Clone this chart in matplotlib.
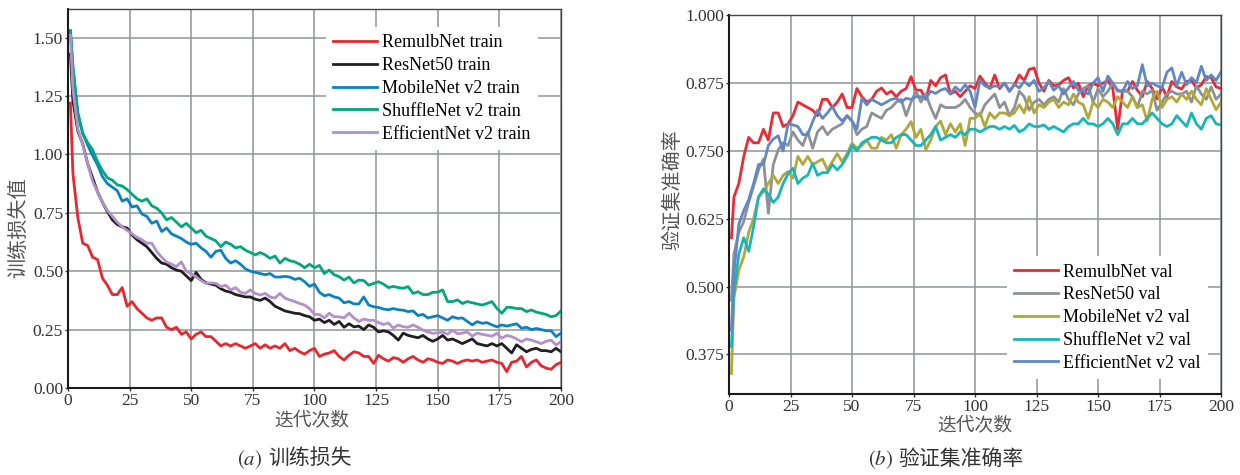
import matplotlib
matplotlib.use('Agg')
import matplotlib.pyplot as plt
from matplotlib.ticker import FormatStrFormatter

plt.rcParams['font.family'] = ['Liberation Serif', 'Noto Sans CJK SC']
plt.rcParams['mathtext.fontset'] = 'stix'

# epochs sampled: first epoch, then every second epoch
epochs = [1] + list(range(2, 201, 2))

# ---- training loss ----
remulb_train = [1.22,
    0.92, 0.73, 0.62, 0.61, 0.56, 0.55, 0.47, 0.44, 0.40, 0.40,
    0.43, 0.35, 0.37, 0.34, 0.32, 0.30, 0.29, 0.30, 0.30, 0.26,
    0.25, 0.26, 0.23, 0.24, 0.21, 0.23, 0.24, 0.22, 0.22, 0.20,
    0.18, 0.19, 0.18, 0.19, 0.18, 0.17, 0.18, 0.19, 0.17, 0.185,
    0.17, 0.18, 0.17, 0.19, 0.16, 0.17, 0.155, 0.145, 0.16, 0.17,
    0.135, 0.145, 0.15, 0.16, 0.135, 0.12, 0.14, 0.155, 0.15, 0.135,
    0.135, 0.105, 0.14, 0.125, 0.115, 0.13, 0.125, 0.11, 0.125, 0.135,
    0.12, 0.11, 0.125, 0.12, 0.11, 0.105, 0.12, 0.115, 0.105, 0.115,
    0.12, 0.115, 0.12, 0.11, 0.115, 0.12, 0.11, 0.105, 0.07, 0.11,
    0.115, 0.135, 0.09, 0.11, 0.12, 0.095, 0.085, 0.08, 0.10, 0.11]
resnet_train = [1.43,
    1.23, 1.10, 1.045, 0.96, 0.90, 0.84, 0.795, 0.755, 0.72, 0.70,
    0.69, 0.685, 0.655, 0.635, 0.62, 0.605, 0.58, 0.555, 0.535, 0.53,
    0.515, 0.505, 0.50, 0.48, 0.46, 0.495, 0.465, 0.45, 0.445, 0.44,
    0.425, 0.415, 0.41, 0.40, 0.395, 0.39, 0.39, 0.38, 0.375, 0.385,
    0.37, 0.35, 0.34, 0.33, 0.325, 0.32, 0.318, 0.31, 0.305, 0.29,
    0.295, 0.28, 0.29, 0.272, 0.285, 0.26, 0.275, 0.262, 0.265, 0.25,
    0.27, 0.26, 0.24, 0.245, 0.24, 0.225, 0.205, 0.235, 0.225, 0.22,
    0.215, 0.225, 0.21, 0.20, 0.21, 0.225, 0.205, 0.21, 0.20, 0.19,
    0.20, 0.21, 0.19, 0.185, 0.18, 0.19, 0.18, 0.19, 0.17, 0.15,
    0.185, 0.17, 0.155, 0.165, 0.17, 0.16, 0.16, 0.155, 0.17, 0.155]
mobilenet_train = [1.53,
    1.37, 1.18, 1.09, 1.04, 0.995, 0.955, 0.905, 0.875, 0.86, 0.845,
    0.80, 0.81, 0.775, 0.78, 0.745, 0.735, 0.705, 0.715, 0.67, 0.685,
    0.66, 0.65, 0.64, 0.625, 0.615, 0.62, 0.60, 0.585, 0.56, 0.585,
    0.59, 0.555, 0.535, 0.545, 0.53, 0.51, 0.50, 0.495, 0.49, 0.485,
    0.49, 0.475, 0.475, 0.478, 0.475, 0.465, 0.47, 0.455, 0.435, 0.445,
    0.41, 0.395, 0.40, 0.39, 0.385, 0.365, 0.37, 0.36, 0.36, 0.39,
    0.355, 0.348, 0.345, 0.338, 0.335, 0.34, 0.335, 0.333, 0.327, 0.33,
    0.31, 0.315, 0.30, 0.305, 0.31, 0.30, 0.29, 0.305, 0.298, 0.30,
    0.285, 0.27, 0.284, 0.277, 0.28, 0.27, 0.262, 0.27, 0.265, 0.27,
    0.275, 0.256, 0.26, 0.25, 0.255, 0.25, 0.245, 0.245, 0.22, 0.235]
shufflenet_train = [1.53,
    1.38, 1.17, 1.09, 1.05, 1.02, 0.97, 0.93, 0.90, 0.89, 0.87,
    0.865, 0.85, 0.83, 0.81, 0.80, 0.81, 0.78, 0.77, 0.75, 0.72,
    0.73, 0.71, 0.69, 0.705, 0.685, 0.665, 0.675, 0.65, 0.64, 0.63,
    0.605, 0.625, 0.615, 0.60, 0.605, 0.59, 0.58, 0.57, 0.58, 0.57,
    0.555, 0.565, 0.535, 0.555, 0.545, 0.54, 0.53, 0.515, 0.53, 0.515,
    0.525, 0.49, 0.505, 0.485, 0.477, 0.462, 0.475, 0.45, 0.462, 0.46,
    0.44, 0.448, 0.455, 0.445, 0.43, 0.435, 0.43, 0.427, 0.434, 0.405,
    0.412, 0.40, 0.40, 0.41, 0.41, 0.42, 0.37, 0.37, 0.377, 0.362,
    0.37, 0.365, 0.36, 0.355, 0.362, 0.37, 0.341, 0.32, 0.345, 0.345,
    0.34, 0.34, 0.327, 0.334, 0.325, 0.32, 0.315, 0.305, 0.31, 0.33]
efficientnet_train = [1.51,
    1.28, 1.11, 1.04, 0.96, 0.885, 0.84, 0.795, 0.76, 0.735, 0.71,
    0.69, 0.675, 0.66, 0.645, 0.635, 0.62, 0.62, 0.585, 0.56, 0.54,
    0.53, 0.52, 0.54, 0.50, 0.49, 0.475, 0.46, 0.448, 0.45, 0.448,
    0.434, 0.44, 0.42, 0.43, 0.41, 0.405, 0.42, 0.405, 0.398, 0.405,
    0.39, 0.385, 0.405, 0.385, 0.377, 0.37, 0.362, 0.355, 0.34, 0.315,
    0.315, 0.30, 0.32, 0.305, 0.305, 0.30, 0.32, 0.30, 0.285, 0.295,
    0.29, 0.29, 0.28, 0.272, 0.278, 0.256, 0.27, 0.262, 0.26, 0.27,
    0.26, 0.248, 0.24, 0.234, 0.236, 0.24, 0.23, 0.248, 0.232, 0.235,
    0.24, 0.222, 0.235, 0.23, 0.226, 0.222, 0.234, 0.213, 0.225, 0.22,
    0.21, 0.198, 0.21, 0.205, 0.198, 0.19, 0.20, 0.205, 0.184, 0.198]

# ---- validation accuracy ----
remulb_val = [0.59,
    0.665, 0.69, 0.74, 0.775, 0.765, 0.765, 0.79, 0.77, 0.82, 0.82,
    0.795, 0.80, 0.815, 0.84, 0.835, 0.83, 0.825, 0.815, 0.845, 0.845,
    0.83, 0.84, 0.855, 0.83, 0.83, 0.865, 0.85, 0.84, 0.845, 0.86,
    0.866, 0.855, 0.86, 0.85, 0.86, 0.865, 0.887, 0.862, 0.862, 0.845,
    0.88, 0.87, 0.885, 0.89, 0.855, 0.86, 0.85, 0.86, 0.87, 0.865,
    0.888, 0.875, 0.865, 0.89, 0.865, 0.875, 0.86, 0.872, 0.89, 0.88,
    0.90, 0.903, 0.875, 0.86, 0.88, 0.87, 0.872, 0.88, 0.885, 0.866,
    0.875, 0.85, 0.87, 0.875, 0.87, 0.875, 0.88, 0.865, 0.79, 0.862,
    0.86, 0.878, 0.862, 0.85, 0.878, 0.865, 0.846, 0.868, 0.85, 0.878,
    0.868, 0.864, 0.878, 0.88, 0.866, 0.872, 0.887, 0.885, 0.868, 0.865]
resnet_val = [0.475,
    0.56, 0.60, 0.62, 0.655, 0.685, 0.715, 0.735, 0.635, 0.725, 0.752,
    0.765, 0.76, 0.785, 0.77, 0.76, 0.785, 0.755, 0.785, 0.795, 0.78,
    0.79, 0.795, 0.80, 0.815, 0.805, 0.78, 0.79, 0.795, 0.82, 0.815,
    0.81, 0.825, 0.83, 0.84, 0.845, 0.815, 0.84, 0.86, 0.84, 0.855,
    0.83, 0.81, 0.835, 0.83, 0.83, 0.83, 0.835, 0.845, 0.83, 0.82,
    0.815, 0.835, 0.845, 0.855, 0.83, 0.84, 0.815, 0.83, 0.86, 0.85,
    0.825, 0.84, 0.845, 0.835, 0.845, 0.85, 0.84, 0.865, 0.845, 0.835,
    0.855, 0.865, 0.87, 0.84, 0.865, 0.85, 0.86, 0.875, 0.86, 0.86,
    0.86, 0.85, 0.83, 0.86, 0.855, 0.862, 0.825, 0.84, 0.855, 0.86,
    0.855, 0.855, 0.86, 0.84, 0.87, 0.855, 0.845, 0.868, 0.845, 0.855]
mobilenet_val = [0.34,
    0.48, 0.53, 0.555, 0.60, 0.625, 0.665, 0.675, 0.69, 0.705, 0.69,
    0.705, 0.712, 0.70, 0.74, 0.725, 0.74, 0.725, 0.73, 0.735, 0.715,
    0.73, 0.745, 0.73, 0.745, 0.764, 0.755, 0.76, 0.77, 0.755, 0.755,
    0.775, 0.77, 0.78, 0.755, 0.78, 0.79, 0.804, 0.775, 0.79, 0.752,
    0.77, 0.795, 0.805, 0.78, 0.80, 0.785, 0.80, 0.76, 0.81, 0.81,
    0.82, 0.795, 0.82, 0.81, 0.82, 0.82, 0.815, 0.82, 0.835, 0.82,
    0.85, 0.82, 0.835, 0.83, 0.84, 0.845, 0.83, 0.84, 0.835, 0.855,
    0.84, 0.835, 0.81, 0.84, 0.83, 0.845, 0.84, 0.83, 0.85, 0.84,
    0.83, 0.85, 0.83, 0.835, 0.805, 0.845, 0.86, 0.83, 0.845, 0.85,
    0.84, 0.855, 0.845, 0.86, 0.845, 0.835, 0.865, 0.845, 0.826, 0.84]
shufflenet_val = [0.39,
    0.49, 0.56, 0.59, 0.565, 0.61, 0.665, 0.68, 0.67, 0.655, 0.665,
    0.69, 0.708, 0.718, 0.69, 0.70, 0.705, 0.727, 0.705, 0.71, 0.71,
    0.725, 0.715, 0.725, 0.74, 0.76, 0.75, 0.765, 0.77, 0.775, 0.775,
    0.77, 0.765, 0.765, 0.775, 0.78, 0.78, 0.77, 0.76, 0.76, 0.77,
    0.78, 0.795, 0.77, 0.775, 0.78, 0.775, 0.785, 0.78, 0.79, 0.79,
    0.785, 0.79, 0.795, 0.795, 0.79, 0.795, 0.79, 0.797, 0.785, 0.79,
    0.80, 0.795, 0.795, 0.798, 0.79, 0.795, 0.79, 0.785, 0.795, 0.80,
    0.80, 0.81, 0.80, 0.80, 0.795, 0.80, 0.81, 0.80, 0.78, 0.80,
    0.80, 0.81, 0.80, 0.80, 0.81, 0.82, 0.81, 0.80, 0.795, 0.80,
    0.815, 0.805, 0.795, 0.82, 0.80, 0.79, 0.81, 0.815, 0.80, 0.798]
efficientnet_val = [0.42,
    0.525, 0.615, 0.64, 0.66, 0.69, 0.725, 0.725, 0.76, 0.772, 0.778,
    0.75, 0.80, 0.798, 0.795, 0.78, 0.78, 0.804, 0.825, 0.81, 0.82,
    0.832, 0.815, 0.805, 0.815, 0.805, 0.79, 0.847, 0.835, 0.845, 0.84,
    0.835, 0.84, 0.845, 0.847, 0.84, 0.847, 0.845, 0.85, 0.85, 0.847,
    0.86, 0.856, 0.862, 0.865, 0.855, 0.868, 0.86, 0.872, 0.86, 0.83,
    0.88, 0.87, 0.866, 0.87, 0.868, 0.875, 0.86, 0.873, 0.866, 0.878,
    0.87, 0.88, 0.86, 0.866, 0.878, 0.862, 0.87, 0.855, 0.866, 0.878,
    0.862, 0.86, 0.855, 0.875, 0.885, 0.86, 0.888, 0.875, 0.862, 0.86,
    0.878, 0.865, 0.87, 0.909, 0.87, 0.875, 0.87, 0.866, 0.895, 0.903,
    0.87, 0.895, 0.872, 0.885, 0.876, 0.906, 0.88, 0.89, 0.88, 0.896]

model_names = ['RemulbNet', 'ResNet50', 'MobileNet v2', 'ShuffleNet v2', 'EfficientNet v2']
train_series = [remulb_train, resnet_train, mobilenet_train, shufflenet_train, efficientnet_train]
val_series = [remulb_val, resnet_val, mobilenet_val, shufflenet_val, efficientnet_val]
train_colors = ['#e8272f', '#231f20', '#0b82c8', '#00a87a', '#b48fca']
val_colors = ['#ea2a34', '#8d9196', '#b0a83a', '#17b7b9', '#5f88c9']

fig = plt.figure(figsize=(12.4, 4.75), dpi=100)
ax1 = fig.add_axes([0.0548, 0.1832, 0.3976, 0.7979])
ax2 = fig.add_axes([0.5879, 0.1705, 0.3968, 0.7973])

legend_kw = dict(fontsize=13, frameon=True, fancybox=False, edgecolor='none',
                 facecolor='white', framealpha=1, handlelength=2.4,
                 handletextpad=0.3, labelspacing=0.32, borderpad=0.4,
                 borderaxespad=0)


def style_axes(ax):
    ax.set_xlim(0, 200)
    ax.set_xticks(range(0, 201, 25))
    ax.grid(True, color='#8f949b', linewidth=1.1)
    ax.set_axisbelow(True)
    for side in ('top', 'right'):
        ax.spines[side].set_color('#444444')
        ax.spines[side].set_linewidth(1.0)
    for side in ('left', 'bottom'):
        ax.spines[side].set_color('#1a1a1a')
        ax.spines[side].set_linewidth(1.5)
    ax.tick_params(labelsize=12.5, colors='#333333', length=2.5, width=1, pad=1)


for name, vals, c in zip(model_names, train_series, train_colors):
    ax1.plot(epochs, vals, color=c, linewidth=2.0, label=name + ' train')
style_axes(ax1)
ax1.set_ylim(0, 1.623)
ax1.set_yticks([0, 0.25, 0.5, 0.75, 1.0, 1.25, 1.5])
ax1.yaxis.set_major_formatter(FormatStrFormatter('%.2f'))
ax1.legend(loc='upper right', bbox_to_anchor=(0.953, 0.952), **legend_kw)

for name, vals, c in zip(model_names, val_series, val_colors):
    ax2.plot(epochs, vals, color=c, linewidth=2.0, label=name + ' val')
style_axes(ax2)
ax2.set_ylim(0.302, 1.0)
ax2.set_yticks([0.375, 0.5, 0.625, 0.75, 0.875, 1.0])
ax2.yaxis.set_major_formatter(FormatStrFormatter('%.3f'))
ax2.legend(loc='lower right', bbox_to_anchor=(0.973, 0.04), **legend_kw)

# axis titles
label_kw = dict(ha='center', va='center', fontsize=13.5, color='#555555')
fig.text(312 / 1240, 1 - 421 / 475, '迭代次数', **label_kw)
fig.text(975 / 1240, 1 - 426 / 475, '迭代次数', **label_kw)
ylab_kw = dict(label_kw, fontsize=14.5)
fig.text(19 / 1240, 1 - 228 / 475, '训练损失值', rotation=90, **ylab_kw)
fig.text(674 / 1240, 1 - 190 / 475, '验证集准确率', rotation=90, **ylab_kw)

# sub-figure captions
cap_kw = dict(va='center', fontsize=15, color='#333333')
fig.text(262 / 1240, 1 - 460 / 475, r'$(a)$', ha='right', **cap_kw)
fig.text(268 / 1240, 1 - 460 / 475, '训练损失', ha='left', **cap_kw)
fig.text(893 / 1240, 1 - 460 / 475, r'$(b)$', ha='right', **cap_kw)
fig.text(898 / 1240, 1 - 460 / 475, '验证集准确率', ha='left', **cap_kw)

fig.savefig('out.png', dpi=100)
